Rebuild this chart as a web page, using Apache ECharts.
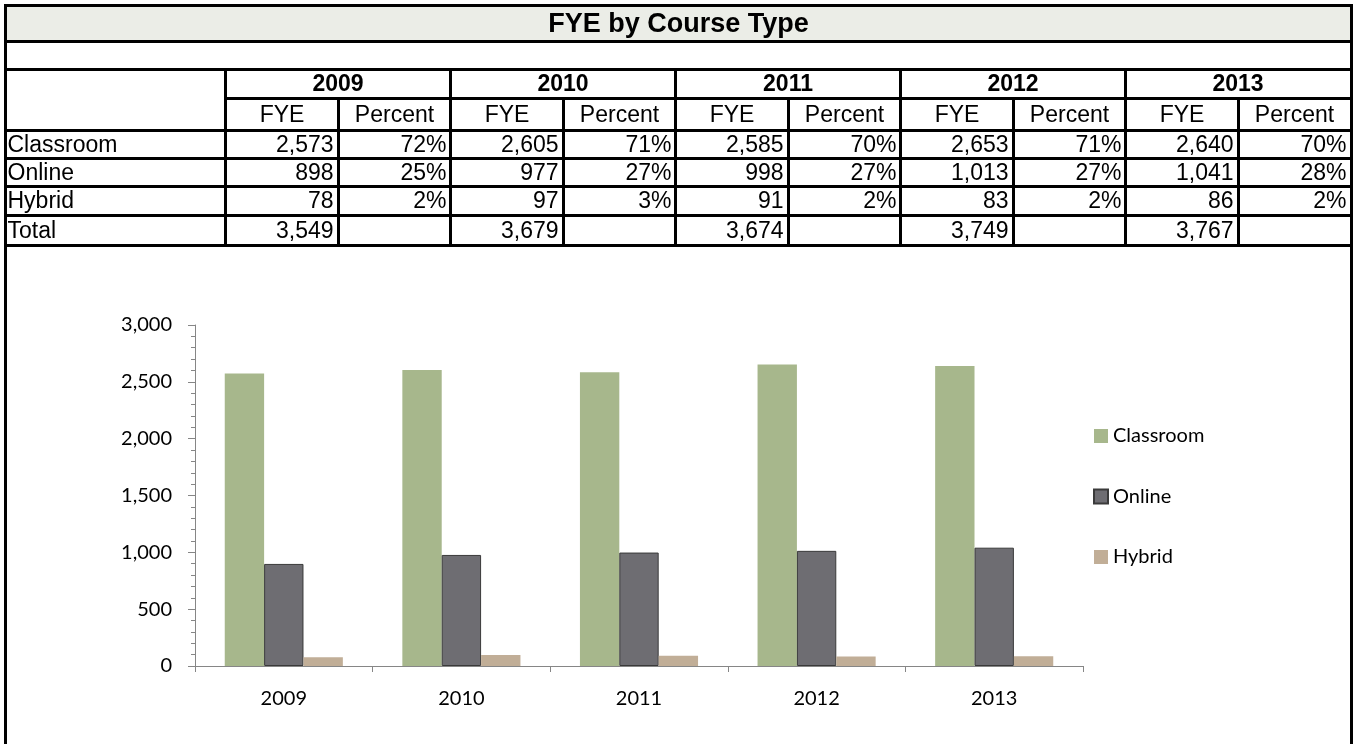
<!DOCTYPE html>
<html>
<head>
<meta charset="utf-8">
<script src="https://cdn.jsdelivr.net/npm/echarts@6/dist/echarts.min.js"></script>
<style>
html,body{margin:0;padding:0;background:#fff;}
#chart{width:1359px;height:744px;}
</style>
</head>
<body>
<div id="chart"></div>
<script>
// ---- data ----
var title = 'FYE by Course Type';
var years = ['2009', '2010', '2011', '2012', '2013'];
var courseTypes = ['Classroom', 'Online', 'Hybrid'];
var classroomFYE = [2573, 2605, 2585, 2653, 2640];
var onlineFYE = [898, 977, 998, 1013, 1041];
var hybridFYE = [78, 97, 91, 83, 86];
var totalFYE = [3549, 3679, 3674, 3749, 3767];
var classroomPct = ['72%', '71%', '70%', '71%', '70%'];
var onlinePct = ['25%', '27%', '27%', '27%', '28%'];
var hybridPct = ['2%', '3%', '2%', '2%', '2%'];
var subHeaders = ['FYE', 'Percent'];
var yTicks = [0, 500, 1000, 1500, 2000, 2500, 3000];

// ---- helpers ----
function fmt(n) { return n.toLocaleString('en-US'); }

var tableFont = '"Liberation Sans", Arial, sans-serif';
var chartFont = 'Lato, "Noto Sans", sans-serif';

// table layout
var L = 5.5, R = 1351.5, BOTTOM = 744;
var labelRight = 225.5;
var groupW = 225;
var rowY = [5.5, 41.5, 69.5, 98.5, 130.5, 158.5, 186.5, 215.5, 245.5];

var g = [];
function hline(x1, x2, y, w) {
  g.push({type: 'line', shape: {x1: x1, y1: y, x2: x2, y2: y}, style: {stroke: '#000', lineWidth: w || 3}, z: 10});
}
function vline(x, y1, y2, w) {
  g.push({type: 'line', shape: {x1: x, y1: y1, x2: x, y2: y2}, style: {stroke: '#000', lineWidth: w || 3}, z: 10});
}
function txt(s, x, y, align, bold, size) {
  g.push({type: 'text', x: x, y: y, style: {text: s, fill: '#000', font: (bold ? 'bold ' : '') + (size || 23) + 'px ' + tableFont, textAlign: align, textVerticalAlign: 'middle'}, z: 11});
}

// title fill
g.push({type: 'rect', shape: {x: L, y: rowY[0], width: R - L, height: rowY[1] - rowY[0]}, style: {fill: '#EBEDE7'}, z: 1});
// outer border
vline(L, rowY[0] - 1.5, BOTTOM);
vline(R, rowY[0] - 1.5, BOTTOM);
hline(L, R, rowY[0]);
hline(L, R, rowY[1]);
hline(L, R, rowY[2]);
hline(labelRight, R, rowY[3]);
for (var r = 4; r < rowY.length; r++) hline(L, R, rowY[r]);
// verticals
vline(labelRight, rowY[2], rowY[8]);
for (var i = 0; i < years.length; i++) {
  var gx = labelRight + i * groupW;
  if (i > 0) vline(gx, rowY[2], rowY[8]);
  vline(Math.round(gx + groupW / 2) + 0.5, rowY[3], rowY[8]);
}

// title text
txt(title, (L + R) / 2, (rowY[0] + rowY[1]) / 2 + 1, 'center', true, 27);

// headers and values
var rowsData = [
  [courseTypes[0], classroomFYE.map(fmt), classroomPct],
  [courseTypes[1], onlineFYE.map(fmt), onlinePct],
  [courseTypes[2], hybridFYE.map(fmt), hybridPct],
  ['Total', totalFYE.map(fmt), ['', '', '', '', '']]
];
for (var i = 0; i < years.length; i++) {
  var gx = labelRight + i * groupW;
  var mid = Math.round(gx + groupW / 2) + 0.5;
  txt(years[i], gx + groupW / 2, (rowY[2] + rowY[3]) / 2 + 1, 'center', true, 23);
  txt(subHeaders[0], (gx + mid) / 2, (rowY[3] + rowY[4]) / 2 + 1, 'center', false, 23);
  txt(subHeaders[1], (mid + gx + groupW) / 2, (rowY[3] + rowY[4]) / 2 + 1, 'center', false, 23);
  for (var r = 0; r < rowsData.length; r++) {
    var cy = (rowY[4 + r] + rowY[5 + r]) / 2 + 1;
    txt(rowsData[r][1][i], mid - 5, cy, 'right', false, 23);
    if (rowsData[r][2][i]) txt(rowsData[r][2][i], gx + groupW - 4, cy, 'right', false, 23);
  }
}
for (var r = 0; r < rowsData.length; r++) {
  txt(rowsData[r][0], L + 2, (rowY[4 + r] + rowY[5 + r]) / 2 + 1, 'left', false, 23);
}

var chart = echarts.init(document.getElementById('chart'), null, {renderer: 'canvas'});
var axisGray = '#868686';
var option = {
  backgroundColor: '#fff',
  animation: false,
  graphic: g,
  grid: {left: 195, right: 276, top: 325, bottom: 78, containLabel: false},
  legend: {
    orient: 'vertical',
    left: 1093,
    top: 426,
    padding: 0,
    itemWidth: 14,
    itemHeight: 14,
    itemGap: 40.5,
    icon: 'rect',
    textStyle: {fontFamily: chartFont, fontSize: 20, color: '#000', lineHeight: 20},
    data: courseTypes
  },
  xAxis: {
    type: 'category',
    data: years,
    axisLine: {lineStyle: {color: axisGray, width: 1}},
    axisTick: {show: true, length: 6, lineStyle: {color: axisGray}},
    axisLabel: {fontFamily: chartFont, fontSize: 20, color: '#000', margin: 23},
    splitLine: {show: false}
  },
  yAxis: {
    type: 'value',
    min: yTicks[0],
    max: yTicks[yTicks.length - 1],
    interval: yTicks[1] - yTicks[0],
    axisLine: {show: true, lineStyle: {color: axisGray, width: 1}},
    axisTick: {show: true, length: 7, lineStyle: {color: axisGray}},
    minorTick: {show: true, splitNumber: 5, length: 4, lineStyle: {color: axisGray}},
    axisLabel: {fontFamily: chartFont, fontSize: 20, color: '#000', margin: 23, formatter: function (v) { return fmt(v); }},
    splitLine: {show: false}
  },
  series: [
    {name: courseTypes[0], type: 'bar', data: classroomFYE, barGap: '0%', barCategoryGap: '33.5%',
     itemStyle: {color: '#A7B78C'}},
    {name: courseTypes[1], type: 'bar', data: onlineFYE, barGap: '0%', barCategoryGap: '33.5%',
     itemStyle: {color: '#6E6D72', borderColor: '#3A3A3A', borderWidth: 1}},
    {name: courseTypes[2], type: 'bar', data: hybridFYE, barGap: '0%', barCategoryGap: '33.5%',
     itemStyle: {color: '#C1AE97'}}
  ]
};
chart.setOption(option);
</script>
</body>
</html>
